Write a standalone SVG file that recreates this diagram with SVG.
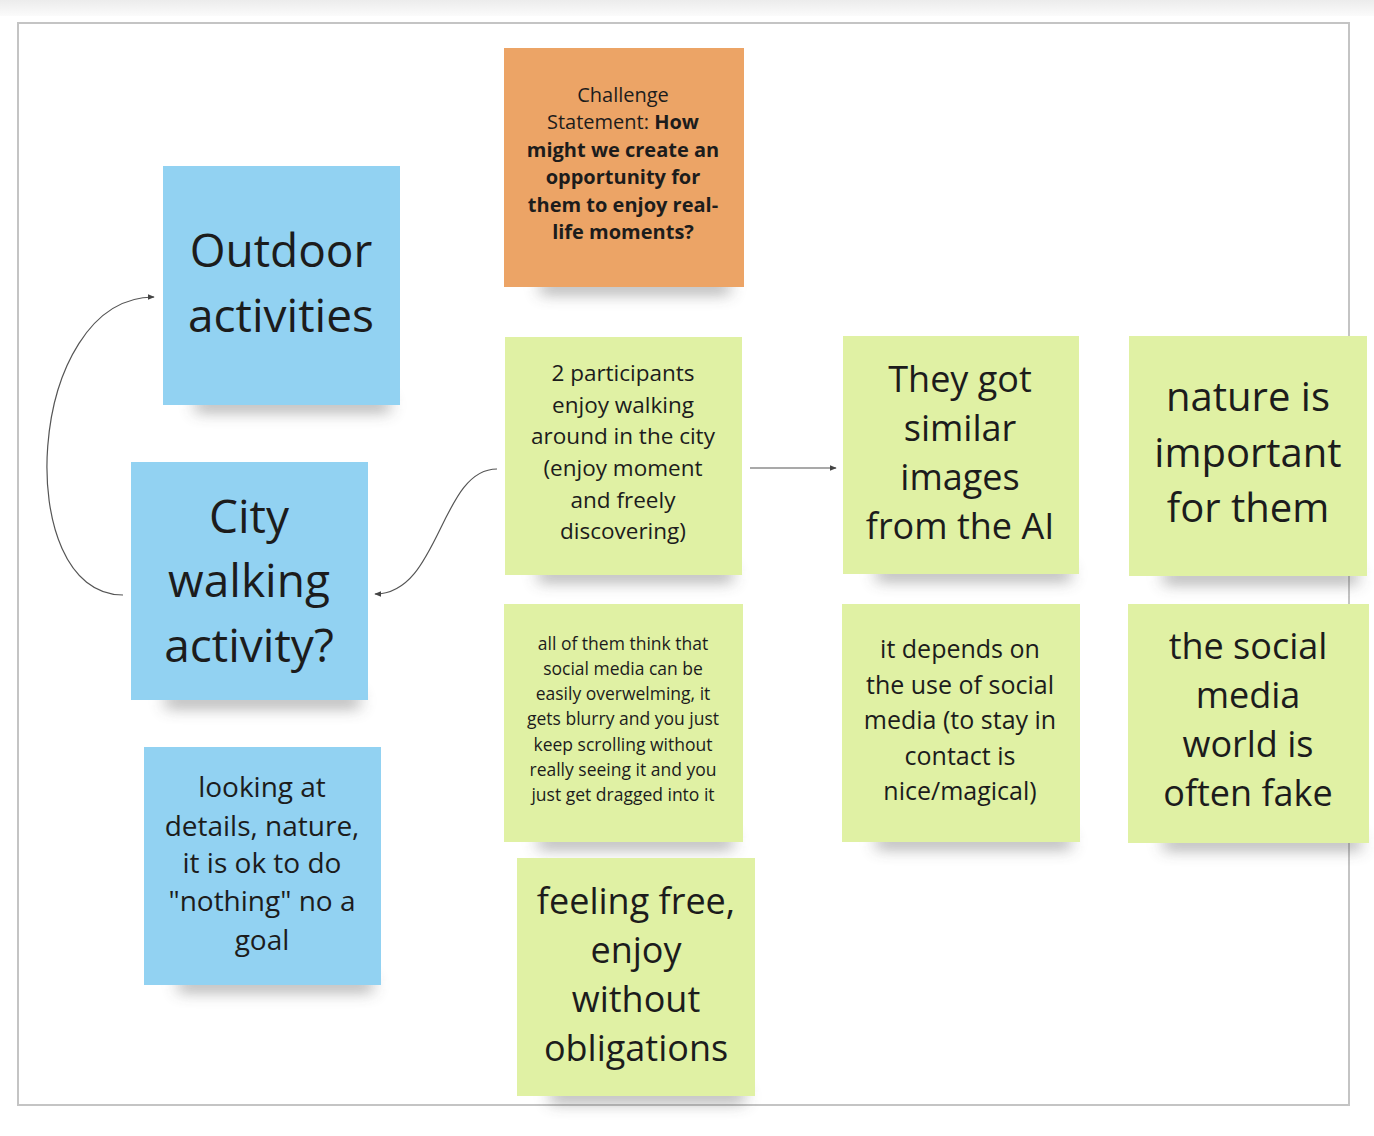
<svg xmlns="http://www.w3.org/2000/svg" width="1374" height="1136" viewBox="0 0 1374 1136">
<defs>
<filter id="blur" x="-20%" y="-300%" width="140%" height="700%"><feGaussianBlur stdDeviation="8"/></filter>
<linearGradient id="top" x1="0" y1="0" x2="0" y2="1"><stop offset="0" stop-color="#ececec"/><stop offset="1" stop-color="#fbfbfb"/></linearGradient>
<marker id="arr" viewBox="0 0 10 10" refX="9" refY="5" markerWidth="6" markerHeight="6" orient="auto"><path d="M0,1 L10,5 L0,9 z" fill="#444"/></marker>
</defs>
<style>
.t{font-family:"Open Sans","Noto Sans","Liberation Sans",sans-serif;fill:#1c1c1c;text-anchor:middle}
.blue{fill:#92d2f2}
.green{fill:#e0f1a4}
.orange{fill:#eca466}
.sh{fill:#444;opacity:0.5;filter:url(#blur)}
.c{fill:none;stroke:#555;stroke-width:1.2}
</style>
<rect width="1374" height="1136" fill="#ffffff"/>
<rect width="1374" height="16" fill="url(#top)"/>
<rect x="18" y="23" width="1331" height="1082" fill="#ffffff" stroke="#c4c4c4" stroke-width="2"/>

<g id="challenge">
<rect class="sh" x="540" y="281" width="190" height="12"/>
<rect class="orange" x="504" y="48" width="240" height="239"/>
<text class="t" font-size="20" x="623" y="102">Challenge</text>
<text class="t" font-size="20" x="623" y="129">Statement: <tspan font-weight="bold">How</tspan></text>
<text class="t" font-size="20" font-weight="bold" x="623" y="157">might we create an</text>
<text class="t" font-size="20" font-weight="bold" x="623" y="184">opportunity for</text>
<text class="t" font-size="20" font-weight="bold" x="623" y="212">them to enjoy real-</text>
<text class="t" font-size="20" font-weight="bold" x="623" y="239">life moments?</text>
</g>

<g id="outdoor">
<rect class="sh" x="195" y="399" width="195" height="12"/>
<rect class="blue" x="163" y="166" width="237" height="239"/>
<text class="t" font-size="46" x="281" y="267">Outdoor</text>
<text class="t" font-size="46" x="281" y="332">activities</text>
</g>

<g id="city">
<rect class="sh" x="165" y="695" width="195" height="12"/>
<rect class="blue" x="131" y="462" width="237" height="238"/>
<text class="t" font-size="46" x="249" y="533">City</text>
<text class="t" font-size="46" x="249" y="597">walking</text>
<text class="t" font-size="46" x="249" y="662">activity?</text>
</g>

<g id="looking">
<rect class="sh" x="178" y="979" width="195" height="12"/>
<rect class="blue" x="144" y="747" width="237" height="238"/>
<text class="t" font-size="28" x="262" y="797">looking at</text>
<text class="t" font-size="28" x="262" y="836">details, nature,</text>
<text class="t" font-size="28" x="262" y="873">it is ok to do</text>
<text class="t" font-size="28" x="262" y="911">"nothing" no a</text>
<text class="t" font-size="28" x="262" y="950">goal</text>
</g>

<g id="participants">
<rect class="sh" x="538" y="569" width="195" height="12"/>
<rect class="green" x="505" y="337" width="237" height="238"/>
<text class="t" font-size="22.5" x="623" y="381">2 participants</text>
<text class="t" font-size="22.5" x="623" y="413">enjoy walking</text>
<text class="t" font-size="22.5" x="623" y="444">around in the city</text>
<text class="t" font-size="22.5" x="623" y="476">(enjoy moment</text>
<text class="t" font-size="22.5" x="623" y="508">and freely</text>
<text class="t" font-size="22.5" x="623" y="539">discovering)</text>
</g>

<g id="overwhelming">
<rect class="sh" x="538" y="836" width="195" height="12"/>
<rect class="green" x="504" y="604" width="239" height="238"/>
<text class="t" font-size="17.5" x="623" y="650">all of them think that</text>
<text class="t" font-size="17.5" x="623" y="675">social media can be</text>
<text class="t" font-size="17.5" x="623" y="700">easily overwelming, it</text>
<text class="t" font-size="17.5" x="623" y="725">gets blurry and you just</text>
<text class="t" font-size="17.5" x="623" y="751">keep scrolling without</text>
<text class="t" font-size="17.5" x="623" y="776">really seeing it and you</text>
<text class="t" font-size="17.5" x="623" y="801">just get dragged into it</text>
</g>

<g id="free">
<rect class="sh" x="550" y="1090" width="195" height="12"/>
<rect class="green" x="517" y="858" width="238" height="238"/>
<text class="t" font-size="36" x="636" y="914">feeling free,</text>
<text class="t" font-size="36" x="636" y="963">enjoy</text>
<text class="t" font-size="36" x="636" y="1012">without</text>
<text class="t" font-size="36" x="636" y="1061">obligations</text>
</g>

<g id="similar">
<rect class="sh" x="876" y="568" width="195" height="12"/>
<rect class="green" x="843" y="336" width="236" height="238"/>
<text class="t" font-size="36" x="960" y="392">They got</text>
<text class="t" font-size="36" x="960" y="441">similar</text>
<text class="t" font-size="36" x="960" y="490">images</text>
<text class="t" font-size="36" x="960" y="539">from the AI</text>
</g>

<g id="nature">
<rect class="sh" x="1163" y="571" width="195" height="12"/>
<rect class="green" x="1129" y="336" width="238" height="240"/>
<text class="t" font-size="40" x="1248" y="411">nature is</text>
<text class="t" font-size="40" x="1248" y="467">important</text>
<text class="t" font-size="40" x="1248" y="522">for them</text>
</g>

<g id="depends">
<rect class="sh" x="876" y="836" width="195" height="12"/>
<rect class="green" x="842" y="604" width="238" height="238"/>
<text class="t" font-size="25" x="960" y="658">it depends on</text>
<text class="t" font-size="25" x="960" y="694">the use of social</text>
<text class="t" font-size="25" x="960" y="729">media (to stay in</text>
<text class="t" font-size="25" x="960" y="765">contact is</text>
<text class="t" font-size="25" x="960" y="800">nice/magical)</text>
</g>

<g id="fake">
<rect class="sh" x="1163" y="837" width="198" height="12"/>
<rect class="green" x="1128" y="604" width="241" height="239"/>
<text class="t" font-size="36" x="1248" y="659">the social</text>
<text class="t" font-size="36" x="1248" y="708">media</text>
<text class="t" font-size="36" x="1248" y="757">world is</text>
<text class="t" font-size="36" x="1248" y="806">often fake</text>
</g>

<g id="connectors">
<path class="c" d="M123,595 C10,595 25,297 154,297" marker-end="url(#arr)"/>
<path class="c" d="M497,469 C440,469 440,594 375,594" marker-end="url(#arr)"/>
<path class="c" d="M750,468 L836,468" marker-end="url(#arr)"/>
</g>
</svg>
